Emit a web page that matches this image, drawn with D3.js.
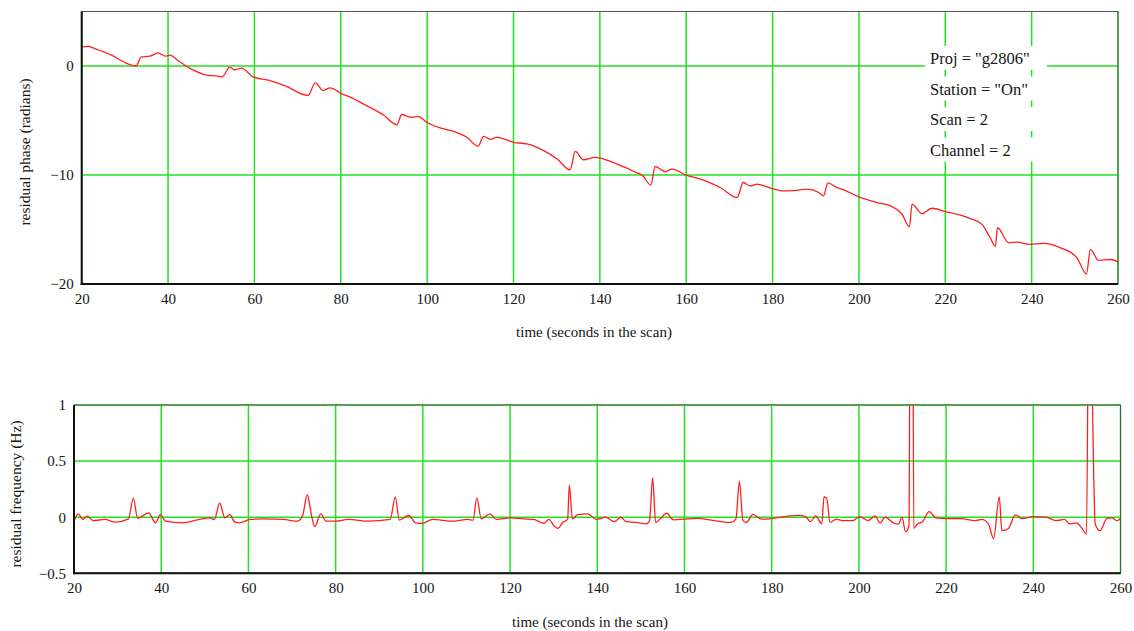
<!DOCTYPE html>
<html lang="en">
<head>
<meta charset="UTF-8">
<title>residual phase / residual frequency</title>
<script src="https://d3js.org/d3.v7.min.js"></script>
<style>
  body { margin: 0; background: #fff; }
  svg text { font-family: "Liberation Serif", "Times New Roman", serif; fill: #151515; }
  .grid line { stroke: #22e022; stroke-width: 1.5; }
  .trace { fill: none; stroke: #ff1f1f; stroke-width: 1.3; }
  .frame { fill: none; stroke: #555; stroke-width: 1; }
  .edge { stroke: #111; stroke-width: 2; }
</style>
</head>
<body>
<script>
// phase curve (seconds, radians)
var phaseT = [20, 21.5, 23, 26.9, 30.7, 32.6, 33.8, 35.8, 37.7, 39.4, 40.4, 42.3, 45, 49.3, 51.2, 52.5,
  54.3, 55.4, 57, 59.7, 63.2, 67, 72.4, 74.1, 75.9, 77.5, 80.2, 82.2, 85.2, 89.9, 93, 94.1, 96.1, 98,
  99.9, 103, 106.1, 109.2, 111.8, 113.1, 114.6, 116.2, 120, 123.1, 127, 130.1, 133.1, 134.3, 136.2,
  138.9, 141.6, 145.5, 148, 150, 151.8, 152.8, 155.1, 156.7, 159.8, 164, 167.9, 171.8, 173.2, 174.8,
  176.4, 179.9, 182.6, 184.9, 188, 190.7, 191.8, 192.8, 194.9, 196.5, 200, 204.2, 207.3, 210, 211.7,
  212.3, 214.6, 216.9, 220, 222.7, 225.8, 228.5, 230.4, 231.6, 232.1, 234.7, 236.6, 239.7, 242.8,
  246.7, 250.5, 252.7, 253.6, 255.5, 258.2, 260];
var phaseV = [1.75, 1.8, 1.6, 1.0, 0.2, 0.0, 0.83, 0.9, 1.2, 0.9, 1.0, 0.5, -0.2, -0.86, -0.9, -1.0,
  -0.1, -0.35, -0.2, -1.0, -1.3, -1.8, -2.7, -1.55, -2.25, -2.0, -2.55, -2.85, -3.47, -4.5, -5.4, -4.45,
  -4.7, -4.64, -5.16, -5.68, -5.99, -6.54, -7.37, -6.45, -6.73, -6.54, -7.0, -7.15, -7.77, -8.53, -9.52,
  -7.83, -8.6, -8.39, -8.63, -9.24, -9.7, -10.1, -10.93, -9.22, -9.7, -9.46, -9.98, -10.47, -11.15,
  -12.07, -10.69, -11.0, -10.84, -11.24, -11.46, -11.43, -11.3, -11.61, -11.92, -10.72, -11.15, -11.36,
  -12.0, -12.53, -12.84, -13.6, -14.75, -12.68, -13.55, -13.05, -13.36, -13.6, -14.0, -14.53, -15.76,
  -16.53, -14.84, -16.22, -16.16, -16.37, -16.28, -16.68, -17.6, -19.08, -16.83, -17.84, -17.75, -17.94];

// frequency curve (seconds, Hz)
var freqT = [20, 21, 22, 23, 24.4, 27.1, 29.4, 32.5, 33.6, 34.6, 37.1, 38.7, 39.8, 41, 44.9, 48.8, 51.1,
  52.2, 53.4, 54.6, 55.7, 56.9, 58, 60.4, 63.5, 68.1, 71.2, 72.4, 73.5, 74.5, 75.2, 76.6, 77.8, 80.1,
  82.8, 87.5, 92.5, 93.7, 94.6, 96.8, 98.3, 99.9, 102.2, 106.8, 110.3, 111.5, 112.4, 113.4, 115.4,
  116.9, 120, 123.1, 125.4, 127.8, 128.9, 130.1, 131, 132, 133.2, 133.6, 134.3, 135.5, 137.8, 139.8,
  141.9, 143.9, 145.4, 146.6, 148.9, 151.3, 152, 152.7, 153.4, 154.4, 155.9, 157.5, 160, 162.9, 166.8,
  170.7, 171.8, 172.6, 173.4, 174.2, 175.7, 177.7, 180, 183.1, 186.2, 187.8, 188.9, 190.1, 191.5, 192,
  192.6, 193.4, 194.8, 196.3, 198.6, 200.2, 202.1, 203.7, 204.9, 206, 208, 209.1, 209.9, 210.7, 211.5,
  211.8, 212.3, 212.6, 213.4, 214.6, 216.1, 217.7, 220, 223.5, 226.6, 228.2, 229.7, 230.9, 232.2,
  232.8, 234.3, 235.9, 237.4, 240.1, 242.9, 245.2, 247.2, 248.3, 249.9, 251, 252.2, 252.8, 254.2,
  255.3, 256.9, 258, 259.2, 260];
var freqV = [-0.035, 0.03, -0.02, 0.01, -0.03, -0.02, -0.044, -0.015, 0.17, -0.01, 0.038, -0.05, 0.023,
  -0.035, -0.05, -0.02, -0.006, -0.02, 0.125, -0.006, 0.023, -0.044, -0.05, -0.02, -0.015, -0.02, -0.035,
  0.01, 0.2, 0.01, -0.084, 0.03, -0.035, -0.035, -0.02, -0.035, -0.02, 0.18, -0.026, 0.015, -0.05,
  -0.055, -0.02, -0.035, -0.02, -0.026, 0.17, -0.015, 0.03, -0.02, -0.006, -0.015, -0.02, -0.055, -0.02,
  -0.078, -0.1, -0.05, -0.02, 0.285, -0.015, 0.023, 0.03, -0.02,
  0, -0.04, 0, -0.04, -0.047, -0.06, -0.03, 0.35, -0.047, -0.017, 0.035, -0.023, -0.017, -0.01, -0.03,
  -0.047, -0.017, 0.32, -0.03, -0.047, 0.026, -0.017, -0.012, 0.006, 0.017, 0.006, -0.04, 0.012, -0.06,
  0.18, 0.17, -0.047, -0.017, -0.03, -0.03, 0.006, -0.03, 0.012, -0.052, 0, -0.052, -0.06, 0, -0.13,
  -0.076, 2.5, 2.5, -0.1, -0.06, -0.04, 0.05, -0.006, -0.012, -0.012, -0.03, -0.02, -0.06, -0.19, 0.18,
  -0.12, -0.1, 0.02, -0.012, 0.006, 0, -0.03, -0.02, -0.06, -0.05, -0.09, -0.15, 2.5, -0.06, -0.12,
  -0.01, -0.006, -0.03, -0.012];

var timeTicks = [20, 40, 60, 80, 100, 120, 140, 160, 180, 200, 220, 240, 260];
var phaseTicks = [-20, -10, 0];
var freqTicks = [-0.5, 0, 0.5, 1];
var infoLines = ['Proj = "g2806"', 'Station = "On"', 'Scan = 2', 'Channel = 2'];

var svg = d3.select("body").append("svg")
    .attr("width", 1134)
    .attr("height", 631);

function minus(s) { return String(s).replace("-", "\u2212"); }

function drawPanel(p) {
  var x = d3.scaleLinear().domain([20, 260]).range([p.left, p.right]);
  var y = d3.scaleLinear().domain(p.yDomain).range([p.bottom, p.top]);
  var g = svg.append("g");

  var grid = g.append("g").attr("class", "grid");
  grid.selectAll(".vx").data(timeTicks).enter().append("line")
      .attr("x1", function(d) { return x(d); }).attr("x2", function(d) { return x(d); })
      .attr("y1", p.top).attr("y2", p.bottom);
  grid.selectAll(".hy").data(p.yTicks).enter().append("line")
      .attr("x1", p.left).attr("x2", p.right)
      .attr("y1", function(d) { return y(d); }).attr("y2", function(d) { return y(d); });

  if (p.afterGrid) p.afterGrid(g, x, y);

  var clipId = "clip" + p.id;
  g.append("clipPath").attr("id", clipId).append("rect")
      .attr("x", p.left).attr("y", p.top)
      .attr("width", p.right - p.left).attr("height", p.bottom - p.top);

  var line = d3.line()
      .x(function(d) { return x(d[0]); })
      .y(function(d) { return y(d[1]); })
      .curve(d3.curveMonotoneX);
  g.append("path")
      .datum(d3.zip(p.t, p.v))
      .attr("class", "trace")
      .attr("clip-path", "url(#" + clipId + ")")
      .attr("d", line);

  g.append("rect").attr("class", "frame")
      .attr("x", p.left).attr("y", p.top)
      .attr("width", p.right - p.left).attr("height", p.bottom - p.top);
  g.append("line").attr("class", "edge")
      .attr("x1", p.left).attr("x2", p.left).attr("y1", p.top).attr("y2", p.bottom + 1);
  g.append("line").attr("class", "edge")
      .attr("x1", p.left - 1).attr("x2", p.right).attr("y1", p.bottom).attr("y2", p.bottom);

  var xa = g.append("g")
      .attr("transform", "translate(0," + p.bottom + ")")
      .call(d3.axisBottom(x).tickValues(timeTicks).tickSize(0).tickPadding(p.xPad));
  xa.select(".domain").remove();
  xa.selectAll("text").style("font-size", "15px").style("font-family", null);

  var ya = g.append("g")
      .attr("transform", "translate(" + p.left + ",0)")
      .call(d3.axisLeft(y).tickValues(p.yTicks).tickSize(0).tickPadding(8)
        .tickFormat(function(d) { return minus(d); }));
  ya.select(".domain").remove();
  ya.selectAll("text").style("font-size", "15px").style("font-family", null);

  g.append("text")
      .attr("x", p.xTitle[0]).attr("y", p.xTitle[1])
      .attr("text-anchor", "middle")
      .style("font-size", "15px")
      .text("time (seconds in the scan)");
  g.append("text")
      .attr("transform", "translate(" + p.yTitle[0] + "," + p.yTitle[1] + ") rotate(-90)")
      .attr("text-anchor", "middle")
      .style("font-size", "15.5px")
      .text(p.yLabel);
}

// upper plot: residual phase
drawPanel({
  id: 1, left: 81.7, right: 1118, top: 11.5, bottom: 284,
  yDomain: [-20, 5], yTicks: phaseTicks, t: phaseT, v: phaseV, xPad: 9,
  xTitle: [594, 337], yTitle: [30, 152], yLabel: "residual phase (radians)",
  afterGrid: function(g) {
    var info = g.append("g");
    info.selectAll("rect").data(infoLines).enter().append("rect")
        .attr("x", 925).attr("width", 122)
        .attr("y", function(d, i) { return 46 + i * 30.5; })
        .attr("height", 24)
        .attr("fill", "#fff");
    info.selectAll("text").data(infoLines).enter().append("text")
        .attr("x", 930)
        .attr("y", function(d, i) { return 64 + i * 30.5; })
        .style("font-size", "16.5px")
        .text(function(d) { return d; });
  }
});

// lower plot: residual frequency
drawPanel({
  id: 2, left: 74, right: 1120.5, top: 405, bottom: 573.3,
  yDomain: [-0.5, 1], yTicks: freqTicks, t: freqT, v: freqV, xPad: 9,
  xTitle: [590, 627], yTitle: [21, 494], yLabel: "residual frequency (Hz)"
});
</script>
</body>
</html>
